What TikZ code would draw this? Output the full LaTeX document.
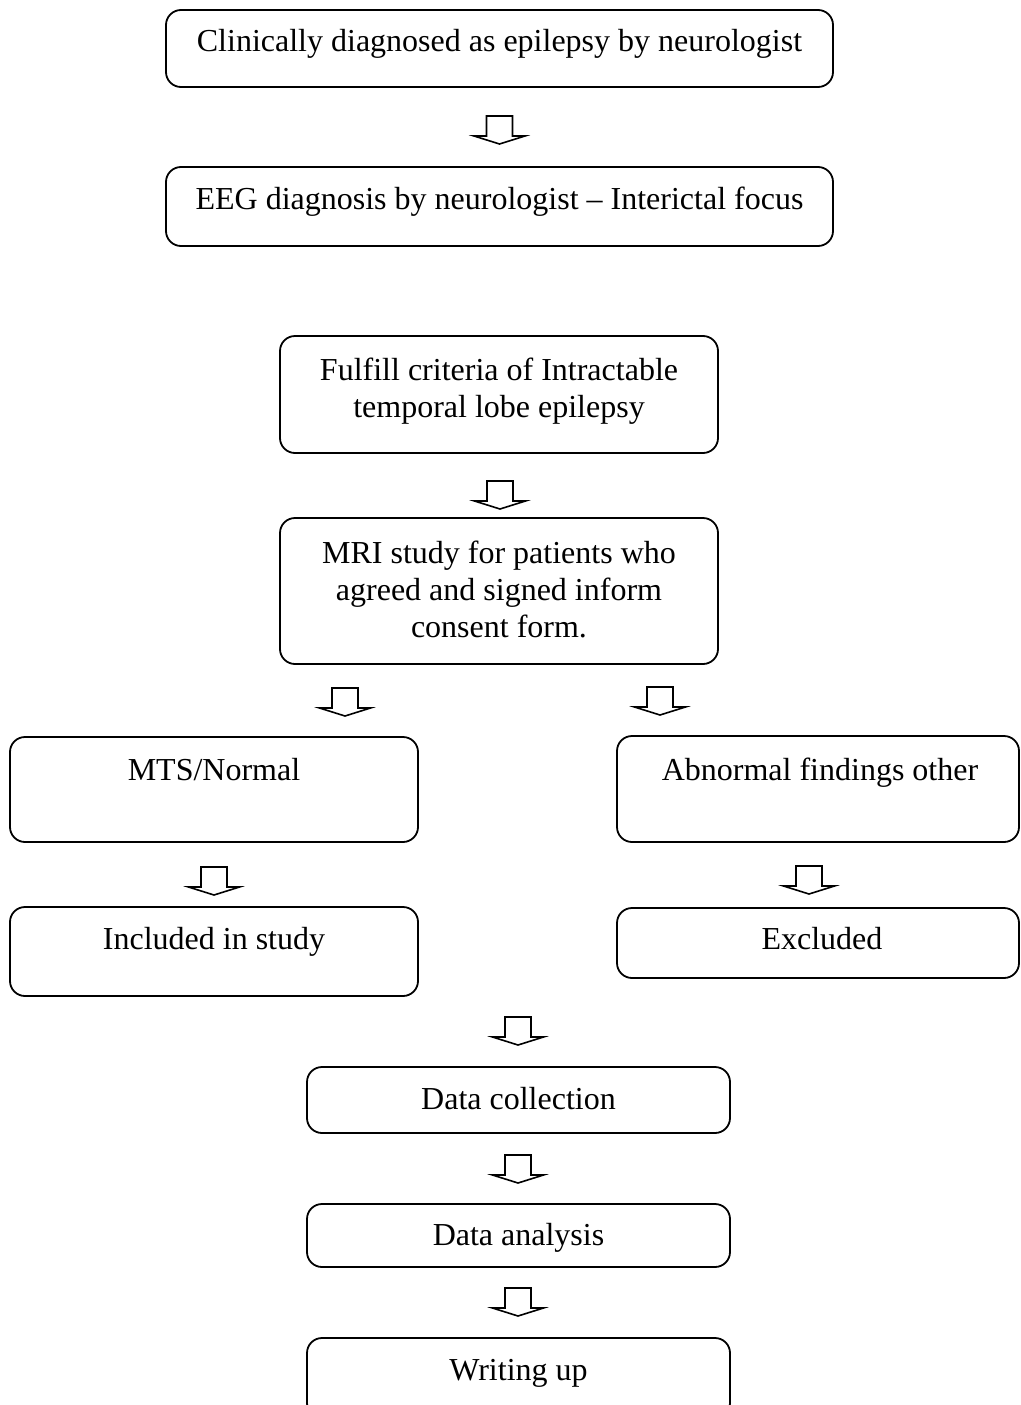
\documentclass[tikz,border=0pt]{standalone}
\usepackage{fontspec}
\setmainfont{Liberation Serif}
\begin{document}
\begin{tikzpicture}[x=1pt,y=-1pt,
  boxst/.style={draw=black, line width=1.8pt, rounded corners=15pt, rectangle, inner sep=0pt},
  txt/.style={anchor=base, inner sep=0pt, font=\fontsize{32}{38}\selectfont},
  arrowline/.style={draw=black, line width=1.6pt, line join=miter, fill=white},
  blockarrow/.pic={\path[arrowline] (-13,0) -- (13,0) -- (13,20) -- (25.5,20) -- (0,28) -- (-25.5,20) -- (-13,20) -- cycle;}
]
\useasboundingbox (0,0) rectangle (1020,1405);
\clip (0,0) rectangle (1020,1405);

% boxes: centre = ((l+r)/2,(t+b)/2), size = (r-l, b-t)
\node[boxst, minimum width=667pt, minimum height=77pt] (b1) at (499.5,48.5) {};
\node[boxst, minimum width=667pt, minimum height=79pt] (b2) at (499.5,206.5) {};
\node[boxst, minimum width=438pt, minimum height=117pt] (b3) at (499,394.5) {};
\node[boxst, minimum width=438pt, minimum height=146pt] (b4) at (499,591) {};
\node[boxst, minimum width=408pt, minimum height=105pt] (b5) at (214,789.5) {};
\node[boxst, minimum width=402pt, minimum height=106pt] (b6) at (818,789) {};
\node[boxst, minimum width=408pt, minimum height=89pt] (b7) at (214,951.5) {};
\node[boxst, minimum width=402pt, minimum height=70pt] (b8) at (818,943) {};
\node[boxst, minimum width=423pt, minimum height=66pt] (b9) at (518.5,1100) {};
\node[boxst, minimum width=423pt, minimum height=63pt] (b10) at (518.5,1235.5) {};
\node[boxst, minimum width=423pt, minimum height=80pt] (b11) at (518.5,1378) {};

% texts
\node[txt] (t1) at (499.5,52) {Clinically diagnosed as epilepsy by neurologist};
\node[txt] (t2) at (499.5,209) {EEG diagnosis by neurologist -- Interictal focus};
\node[txt] (t3a) at (499,380) {Fulfill criteria of Intractable};
\node[txt] (t3b) at (499,417) {temporal lobe epilepsy};
\node[txt] (t4a) at (499,563) {MRI study for patients who};
\node[txt] (t4b) at (499,600) {agreed and signed inform};
\node[txt] (t4c) at (499,637) {consent form.};
\node[txt] (t5) at (214,780) {MTS/Normal};
\node[txt] (t6) at (820,780) {Abnormal findings other};
\node[txt] (t7) at (214,949) {Included in study};
\node[txt] (t8) at (822,949) {Excluded};
\node[txt] (t9) at (518.5,1109) {Data collection};
\node[txt] (t10) at (518.5,1245) {Data analysis};
\node[txt] (t11) at (518.5,1380) {Writing up};

% block arrows (centre x, top of shaft)
\pic at (499.5,116) {blockarrow};
\pic at (500,481) {blockarrow};
\pic at (345,688) {blockarrow};
\pic at (660,687) {blockarrow};
\pic at (214,867) {blockarrow};
\pic at (809,866) {blockarrow};
\pic at (518,1017) {blockarrow};
\pic at (518,1155) {blockarrow};
\pic at (518,1288) {blockarrow};
\end{tikzpicture}
\end{document}
